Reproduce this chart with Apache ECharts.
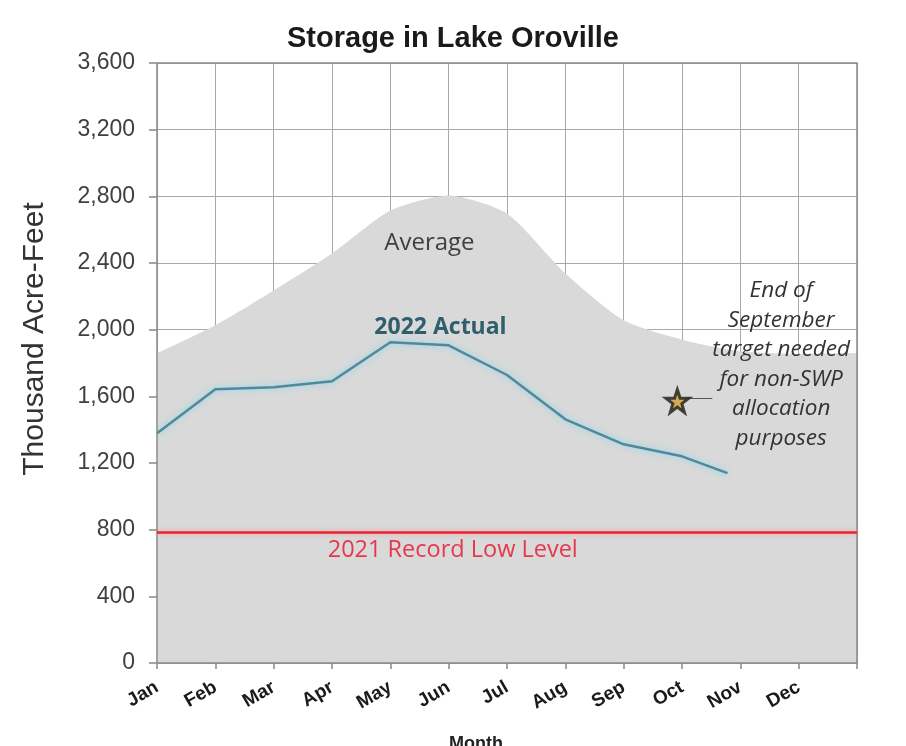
<!DOCTYPE html>
<html>
<head>
<meta charset="utf-8">
<title>Storage in Lake Oroville</title>
<script src="https://cdn.jsdelivr.net/npm/echarts@6/dist/echarts.min.js"></script>
<style>
  html, body { margin: 0; padding: 0; background: #fff; }
  #main { width: 906px; height: 746px; }
</style>
</head>
<body>
<div id="main"></div>
<script>
// month labels on the x axis (position 12 is the year end, no label)
const months = ['Jan', 'Feb', 'Mar', 'Apr', 'May', 'Jun', 'Jul', 'Aug', 'Sep', 'Oct', 'Nov', 'Dec'];

// historical average storage, thousand acre-feet, at month starts 0..12
const avgMonths = [0, 1, 2, 3, 4, 5, 6, 7, 8, 9, 10, 11, 12];
const avgValues = [1858, 2026, 2235, 2457, 2715, 2805, 2697, 2337, 2056, 1940, 1870, 1855, 1860];

// 2022 actual storage
const actualMonths = [0, 1, 2, 3, 4, 5, 6, 7, 8, 9, 9.78];
const actualValues = [1378, 1642, 1655, 1690, 1924, 1906, 1728, 1462, 1312, 1240, 1139];

// 2021 record low level
const recordLow = 785;

// end of September target
const targetMonth = 8.92;
const targetValue = 1590;

const yMin = 0, yMax = 3600, yStep = 400;

function pairs(xs, ys) {
  return xs.map((x, i) => [x, ys[i]]);
}

const starPath = 'path://M50,2 L61.5,36 L97,36 L68.5,57.5 L79,92 L50,71 L21,92 L31.5,57.5 L3,36 L38.5,36 Z';

const chart = echarts.init(document.getElementById('main'), null, { renderer: 'canvas' });

// text placed at data coordinates
function note(coord, text, style) {
  return {
    coord: coord,
    symbol: 'rect',
    symbolSize: 1,
    itemStyle: { color: 'rgba(0,0,0,0)' },
    label: Object.assign({
      show: true,
      position: 'inside',
      formatter: text
    }, style)
  };
}

const option = {
  animation: false,
  backgroundColor: '#ffffff',
  title: {
    text: 'Storage in Lake Oroville',
    left: 'center',
    top: 19,
    textStyle: {
      fontFamily: 'Liberation Sans',
      fontSize: 29,
      fontWeight: 'bold',
      color: '#1a1a1a'
    }
  },
  grid: {
    left: 157,
    right: 49,
    top: 63,
    bottom: 83,
    containLabel: false,
    outerBoundsMode: 'none',
    show: true,
    z: 5,
    backgroundColor: 'rgba(0,0,0,0)',
    borderColor: '#8a8a8a',
    borderWidth: 1.5
  },
  xAxis: {
    type: 'value',
    min: 0,
    max: 12,
    interval: 1,
    name: 'Month',
    nameLocation: 'middle',
    nameGap: 72,
    nameTextStyle: {
      fontFamily: 'Liberation Sans',
      fontSize: 18,
      fontWeight: 'bold',
      color: '#222',
      padding: [0, 62, 0, 0]
    },
    axisLine: { show: false },
    axisTick: { show: true, length: 6, lineStyle: { color: '#888', width: 1.5 } },
    axisLabel: {
      rotate: 30,
      margin: 23,
      fontFamily: 'Liberation Sans',
      fontSize: 19,
      fontWeight: 'bold',
      color: '#1a1a1a',
      formatter: function (v) { return months[v] || ''; }
    },
    splitLine: { show: true, lineStyle: { color: '#a8a8a8', width: 1 } }
  },
  yAxis: {
    type: 'value',
    min: yMin,
    max: yMax,
    interval: yStep,
    name: 'Thousand Acre-Feet',
    nameLocation: 'middle',
    nameRotate: 90,
    nameGap: 107,
    nameTextStyle: {
      fontFamily: 'Liberation Sans',
      fontSize: 30,
      color: '#333',
      padding: [0, 0, 0, 48]
    },
    axisLine: { show: false },
    axisTick: { show: true, length: 8, lineStyle: { color: '#888', width: 1.5 } },
    axisLabel: {
      margin: 22,
      fontFamily: 'Liberation Sans',
      fontSize: 23,
      color: '#404040',
      formatter: function (v) { return v.toLocaleString('en-US'); }
    },
    splitLine: { show: true, lineStyle: { color: '#a8a8a8', width: 1 } }
  },
  series: [
    {
      name: 'Average',
      type: 'line',
      z: 1,
      smooth: 0.22,
      symbol: 'none',
      data: pairs(avgMonths, avgValues),
      lineStyle: { width: 0, color: '#d9d9d9' },
      areaStyle: { color: '#d9d9d9', opacity: 1 }
    },
    {
      name: '2022 Actual',
      type: 'line',
      z: 3,
      symbol: 'none',
      data: pairs(actualMonths, actualValues),
      lineStyle: {
        color: '#4e8a9c',
        width: 2.5,
        shadowColor: 'rgba(120,215,240,0.95)',
        shadowBlur: 6
      },
      markLine: {
        silent: true,
        symbol: 'none',
        label: { show: false },
        lineStyle: {
          type: 'solid',
          color: '#e3262f',
          width: 2.5,
          shadowColor: 'rgba(255,130,150,0.8)',
          shadowBlur: 5
        },
        data: [{ yAxis: recordLow }]
      }
    },
    {
      name: 'Target',
      type: 'scatter',
      z: 6,
      symbol: starPath,
      symbolSize: 23,
      symbolOffset: [0, 3],
      data: [[targetMonth, targetValue]],
      itemStyle: {
        color: '#c9a030',
        borderColor: '#1c1c1c',
        borderWidth: 3
      },
      markLine: {
        silent: true,
        symbol: 'none',
        label: { show: false },
        lineStyle: { type: 'solid', color: '#555', width: 1 },
        data: [[
          { coord: [targetMonth + 0.15, targetValue] },
          { coord: [targetMonth + 0.6, targetValue] }
        ]]
      },
      markPoint: {
        silent: true,
        data: [
          note([4.67, 2522], 'Average', {
            fontFamily: 'Open Sans', fontSize: 24, color: '#404040'
          }),
          note([4.86, 2012], '2022 Actual', {
            fontFamily: 'Open Sans', fontSize: 23, fontWeight: 'bold', color: '#2f5e6c'
          }),
          note([5.07, 677], '2021 Record Low Level', {
            fontFamily: 'Open Sans', fontSize: 23.5, color: '#e5394b'
          }),
          note([10.7, 1790], 'End of\nSeptember\ntarget needed\nfor non-SWP\nallocation\npurposes', {
            fontFamily: 'Open Sans', fontSize: 22.5, fontStyle: 'italic',
            lineHeight: 29.5, align: 'center', color: '#333'
          })
        ]
      }
    }
  ]
};

chart.setOption(option);
</script>
</body>
</html>
